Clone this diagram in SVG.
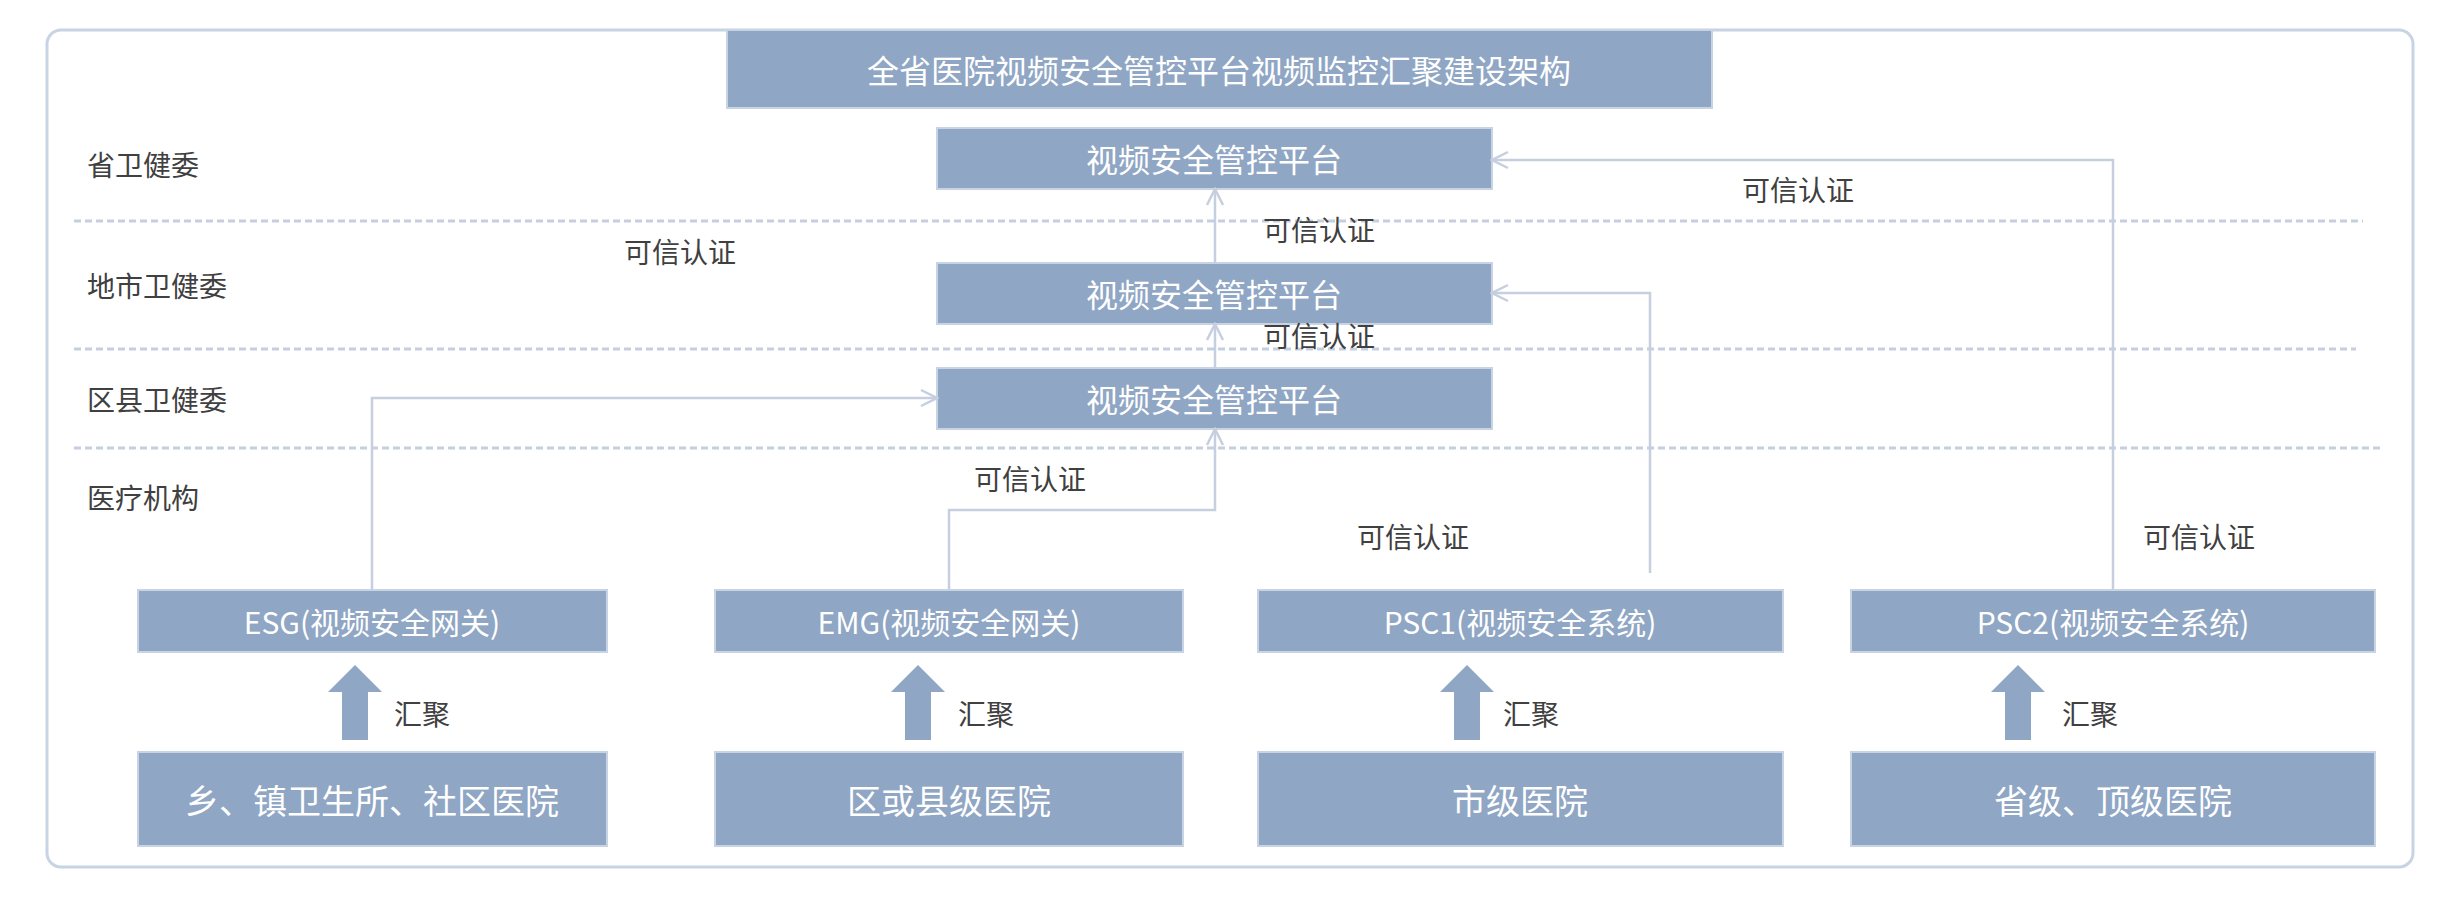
<svg xmlns="http://www.w3.org/2000/svg" width="2463" height="899" viewBox="0 0 2463 899">
<style>
.box{fill:#8fa6c4;stroke:#c8d3e3;stroke-width:2}
.bt{font-family:"Noto Sans CJK SC","Liberation Sans",sans-serif;fill:#fff;text-anchor:middle;dominant-baseline:central}
.lt{font-family:"Noto Sans CJK SC","Liberation Sans",sans-serif;fill:#404040;font-size:28px;dominant-baseline:central}
.c{fill:none;stroke:#c5cfe0;stroke-width:2.5}
.d{stroke:#c5cfe0;stroke-width:3;stroke-dasharray:7 4}
.fat{fill:#8fa6c4}
</style>
<defs>
<marker id="a" viewBox="0 0 20 20" refX="18" refY="10" markerWidth="20" markerHeight="20" markerUnits="userSpaceOnUse" orient="auto"><path d="M2,2 L18,10 L2,18" fill="none" stroke="#c5cfe0" stroke-width="2.5"/></marker>
</defs>
<rect x="47" y="30" width="2366" height="837" rx="14" fill="#fff" stroke="#c8d3e3" stroke-width="3"/>
<g id="lanes">
<line class="d" x1="74" y1="221" x2="2363" y2="221"/>
<line class="d" x1="74" y1="349" x2="2356" y2="349"/>
<line class="d" x1="74" y1="448" x2="2380" y2="448"/>
<text class="lt" x="87" y="164">省卫健委</text>
<text class="lt" x="87" y="285">地市卫健委</text>
<text class="lt" x="87" y="399">区县卫健委</text>
<text class="lt" x="87" y="497">医疗机构</text>
</g>
<g id="title"><rect class="box" x="727" y="30" width="985" height="78"/><text class="bt" x="1219" y="69" font-size="32">全省医院视频安全管控平台视频监控汇聚建设架构</text></g>
<g id="p1"><rect class="box" x="937" y="128" width="555" height="61"/><text class="bt" x="1214" y="158" font-size="32">视频安全管控平台</text></g>
<g id="p2"><rect class="box" x="937" y="263" width="555" height="61"/><text class="bt" x="1214" y="293" font-size="32">视频安全管控平台</text></g>
<g id="p3"><rect class="box" x="937" y="368" width="555" height="61"/><text class="bt" x="1214" y="398" font-size="32">视频安全管控平台</text></g>
<g id="esg"><rect class="box" x="138" y="590" width="469" height="62"/><text class="bt" x="372" y="621" font-size="30">ESG(视频安全网关)</text></g>
<g id="emg"><rect class="box" x="715" y="590" width="468" height="62"/><text class="bt" x="949" y="621" font-size="30">EMG(视频安全网关)</text></g>
<g id="psc1"><rect class="box" x="1258" y="590" width="525" height="62"/><text class="bt" x="1520" y="621" font-size="30">PSC1(视频安全系统)</text></g>
<g id="psc2"><rect class="box" x="1851" y="590" width="524" height="62"/><text class="bt" x="2113" y="621" font-size="30">PSC2(视频安全系统)</text></g>
<g id="h1"><rect class="box" x="138" y="752" width="469" height="94"/><text class="bt" x="372" y="799" font-size="34">乡、镇卫生所、社区医院</text></g>
<g id="h2"><rect class="box" x="715" y="752" width="468" height="94"/><text class="bt" x="949" y="799" font-size="34">区或县级医院</text></g>
<g id="h3"><rect class="box" x="1258" y="752" width="525" height="94"/><text class="bt" x="1520" y="799" font-size="34">市级医院</text></g>
<g id="h4"><rect class="box" x="1851" y="752" width="524" height="94"/><text class="bt" x="2113" y="799" font-size="34">省级、顶级医院</text></g>
<g id="connectors">
<path class="fat" d="M342,740 V692 H328 L355,665 L382,692 H368 V740 Z"/>
<path class="fat" d="M905,740 V692 H891 L918,665 L945,692 H931 V740 Z"/>
<path class="fat" d="M1454,740 V692 H1440 L1467,665 L1494,692 H1480 V740 Z"/>
<path class="fat" d="M2005,740 V692 H1991 L2018,665 L2045,692 H2031 V740 Z"/>
<text class="lt" x="394" y="713">汇聚</text>
<text class="lt" x="958" y="713">汇聚</text>
<text class="lt" x="1503" y="713">汇聚</text>
<text class="lt" x="2062" y="713">汇聚</text>
<path class="c" d="M372,590 V398 H937" marker-end="url(#a)"/>
<path class="c" d="M949,590 V510 H1215 V429" marker-end="url(#a)"/>
<path class="c" d="M1215,368 V324" marker-end="url(#a)"/>
<path class="c" d="M1215,263 V189" marker-end="url(#a)"/>
<path class="c" d="M1650,573 V293 H1492" marker-end="url(#a)"/>
<path class="c" d="M2113,590 V160 H1492" marker-end="url(#a)"/>
<text class="lt" x="624" y="251">可信认证</text>
<text class="lt" x="1263" y="229">可信认证</text>
<text class="lt" x="1263" y="335">可信认证</text>
<text class="lt" x="974" y="478">可信认证</text>
<text class="lt" x="1357" y="536">可信认证</text>
<text class="lt" x="2143" y="536">可信认证</text>
<text class="lt" x="1742" y="189">可信认证</text>
</g>
</svg>
